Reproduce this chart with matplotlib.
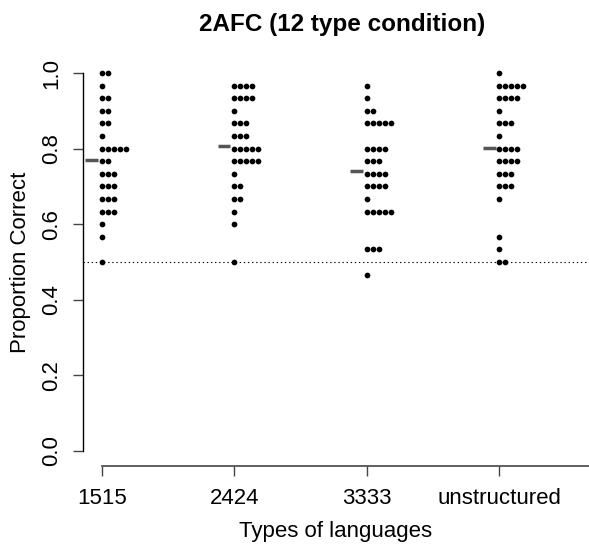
import numpy as np
import matplotlib
matplotlib.use("Agg")
import matplotlib.pyplot as plt

plt.rcParams['font.family'] = ['Liberation Sans', 'DejaVu Sans']

# Datos: número de participantes por nivel de acierto (k/30)
groups = ["1515", "2424", "3333", "unstructured"]
levels_1515 = [30, 29, 28, 27, 26, 25, 24, 23, 22, 21, 20, 19, 18, 17, 15]
counts_1515 = [2, 1, 2, 2, 2, 1, 5, 2, 3, 3, 3, 3, 1, 1, 1]
levels_2424 = [29, 28, 27, 26, 25, 24, 23, 22, 21, 20, 19, 18, 15]
counts_2424 = [4, 4, 1, 3, 3, 5, 5, 1, 2, 2, 1, 1, 1]
levels_3333 = [29, 28, 27, 26, 24, 23, 22, 21, 20, 19, 16, 14]
counts_3333 = [1, 1, 2, 5, 4, 3, 4, 4, 1, 5, 3, 1]
levels_unstr = [30, 29, 28, 27, 26, 25, 24, 23, 22, 21, 20, 17, 16, 15]
counts_unstr = [1, 5, 4, 1, 3, 1, 4, 4, 3, 3, 1, 1, 1, 2]
n_trials = 30

all_levels = [levels_1515, levels_2424, levels_3333, levels_unstr]
all_counts = [counts_1515, counts_2424, counts_3333, counts_unstr]

fig = plt.figure(figsize=(5.89, 5.46), dpi=100)
ax = fig.add_axes([83 / 589, 80 / 546, 506 / 589, 408 / 546])

xmin, xmax = 0.859, 4.675
step = 6 / 132.6  # separación horizontal entre puntos apilados

for i, (lv, ct) in enumerate(zip(all_levels, all_counts)):
    g = i + 1
    xs, ys = [], []
    for v, c in zip(lv, ct):
        for j in range(c):
            xs.append(g + j * step)
            ys.append(v / n_trials)
    ax.scatter(xs, ys, s=17, color='black', linewidths=0, zorder=3)
    vals = np.repeat(np.array(lv) / n_trials, ct)
    m = vals.mean()
    ax.plot([g - 0.126, g - 0.03], [m, m], color='#555555', lw=2.5,
            solid_capstyle='butt', zorder=2)

ax.axhline(0.5, color='black', lw=0.8, linestyle=(0, (1.2, 2.5)), zorder=1)

ax.set_xlim(xmin, xmax)
ax.set_ylim(-0.04, 1.04)

for s in ['top', 'right']:
    ax.spines[s].set_visible(False)
ax.spines['left'].set_bounds(0, 1)
ax.spines['left'].set_color('black')
ax.spines['left'].set_linewidth(1.0)
ax.spines['bottom'].set_bounds(1, xmax)
ax.spines['bottom'].set_color('#444444')
ax.spines['bottom'].set_linewidth(1.2)

ax.set_yticks([0, 0.2, 0.4, 0.6, 0.8, 1.0])
ax.set_yticklabels(['0.0', '0.2', '0.4', '0.6', '0.8', '1.0'],
                   rotation=90, va='center', fontsize=16)
ax.set_xticks([1, 2, 3, 4])
ax.set_xticklabels(groups, fontsize=16)
ax.tick_params(axis='y', length=7.2, width=1.0, color='#444444', pad=8)
ax.tick_params(axis='x', length=7.2, width=1.0, color='#444444', pad=9)

ax.set_ylabel("Proportion Correct", fontsize=16, labelpad=7)
ax.set_xlabel("Types of languages", fontsize=16, labelpad=8)
fig.text(342 / 589, 1 - 31 / 546, "2AFC (12 type condition)", ha='center',
         va='baseline', fontsize=17.5, fontweight='bold')

fig.savefig("out.png", dpi=100)
